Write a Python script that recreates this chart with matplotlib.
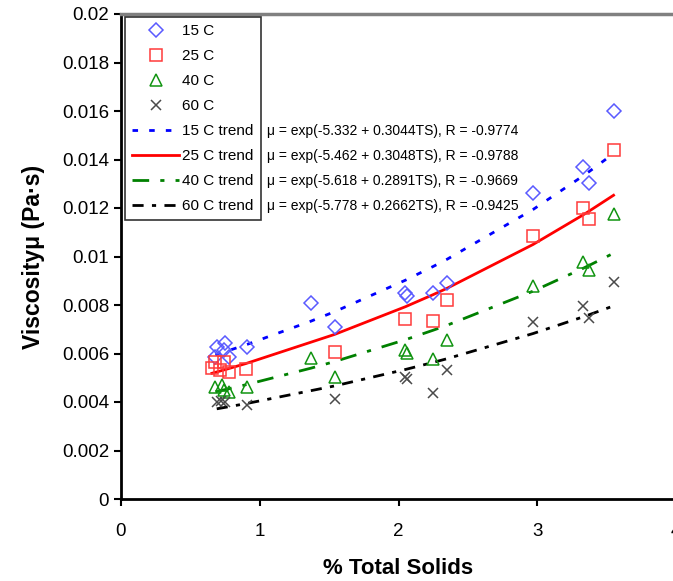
import numpy as np
import matplotlib
matplotlib.use("Agg")
import matplotlib.pyplot as plt
from matplotlib.lines import Line2D

plt.rcParams['font.family'] = ['Liberation Sans', 'DejaVu Sans']

# % total solids / viscosity (Pa s)
ts_15 = [0.69, 0.75, 0.74, 0.68, 0.775, 0.91, 1.37, 1.54, 2.05, 2.06, 2.25, 2.35, 2.97, 3.33, 3.37, 3.55]
mu_15 = [0.00628, 0.00642, 0.00614, 0.00587, 0.00584, 0.00628, 0.0081, 0.0071,
         0.00848, 0.00838, 0.00848, 0.00892, 0.01263, 0.0137, 0.01302, 0.01601]

ts_25 = [0.655, 0.68, 0.74, 0.715, 0.775, 0.90, 1.54, 2.05, 2.25, 2.35, 2.97, 3.33, 3.37, 3.55]
mu_25 = [0.00539, 0.00566, 0.00566, 0.00532, 0.00525, 0.00535, 0.00607, 0.00742,
         0.00735, 0.00821, 0.01085, 0.01199, 0.01153, 0.01439]

ts_40 = [0.68, 0.73, 0.74, 0.775, 0.91, 1.37, 1.54, 2.05, 2.06, 2.25, 2.35, 2.97, 3.33, 3.37, 3.55]
mu_40 = [0.0046, 0.0047, 0.0045, 0.00443, 0.0046, 0.00581, 0.00504, 0.00614, 0.00602,
         0.00577, 0.00656, 0.00878, 0.00979, 0.00944, 0.01174]

ts_60 = [0.69, 0.72, 0.75, 0.91, 1.54, 2.05, 2.06, 2.25, 2.35, 2.97, 3.33, 3.37, 3.55]
mu_60 = [0.00401, 0.00404, 0.00401, 0.00388, 0.00412, 0.00504, 0.00495, 0.00438,
         0.00532, 0.00731, 0.00796, 0.00745, 0.00896]

# fit coefficients printed on the chart: mu = exp(a + b*TS)
fit_a = [-5.332, -5.462, -5.618, -5.778]
fit_b = [0.3044, 0.3048, 0.2891, 0.2662]
fit_r = [-0.9774, -0.9788, -0.9669, -0.9425]

temps = ['15 C', '25 C', '40 C', '60 C']
y_ticks = [0, 0.002, 0.004, 0.006, 0.008, 0.01, 0.012, 0.014, 0.016, 0.018, 0.02]
y_tick_labels = ['0', '0.002', '0.004', '0.006', '0.008', '0.01', '0.012', '0.014', '0.016', '0.018', '0.02']
x_ticks = [0, 1, 2, 3, 4]

series = [(ts_15, mu_15), (ts_25, mu_25), (ts_40, mu_40), (ts_60, mu_60)]
markers = ['D', 's', '^', 'x']
msizes = [7, 8, 8.5, 7.5]
mcolors = ['#5a5aff', '#ff3a3a', '#119411', '#4a4a4a']
lcolors = ['#0000ff', '#ff0000', '#008000', '#000000']
lstyles = [(0, (2, 4)), '-', (0, (6, 4, 1.5, 4)), (0, (4, 3, 1.5, 3))]

fig = plt.figure(figsize=(6.73, 5.81), dpi=100)
W, H = 673, 581
ax = fig.add_axes([121 / W, 1 - 499 / H, (676 - 121) / W, (499 - 14) / H])

handles = []
for (ts, mu), mk, ms, mc, t in zip(series, markers, msizes, mcolors, temps):
    ax.plot(ts, mu, linestyle='none', marker=mk, markersize=ms, markerfacecolor='none',
            markeredgecolor=mc, markeredgewidth=1.1, zorder=3)
    handles.append(Line2D([], [], linestyle='none', marker=mk, markersize=ms,
                          markerfacecolor='none', markeredgecolor=mc, markeredgewidth=1.1, label=t))

for (ts, mu), a, b, lc, ls, t in zip(series, fit_a, fit_b, lcolors, lstyles, temps):
    xs = np.unique(ts)
    ax.plot(xs, np.exp(a + b * xs), color=lc, linestyle=ls, linewidth=2, zorder=2)
    handles.append(Line2D([], [], color=lc, linestyle=ls, linewidth=2, label=t + ' trend'))

ax.set_xlim(0, 4)
ax.set_ylim(0, 0.02)
ax.set_xticks(x_ticks)
ax.set_yticks(y_ticks)
ax.set_yticklabels(y_tick_labels)
ax.tick_params(labelsize=13.5, direction='out', length=5, width=1.5, colors='black')
ax.tick_params(axis='x', pad=12)
for s in ['left', 'bottom']:
    ax.spines[s].set_linewidth(2)
ax.spines['top'].set_color('#808080')
ax.spines['top'].set_linewidth(2.5)
ax.spines['right'].set_visible(False)

ax.set_xlabel('% Total Solids', fontsize=16, fontweight='bold', labelpad=13)
ax.set_ylabel('Viscosity\u03bc (Pa\u00b7s)', fontsize=16.5, fontweight='bold', labelpad=12)

leg = ax.legend(handles=handles, loc='upper left', bbox_to_anchor=(125 / W, 1 - 17 / H),
                bbox_transform=fig.transFigure, borderaxespad=0, fontsize=11,
                handlelength=3.1, handletextpad=0.2, labelspacing=0.72, borderpad=0.45,
                frameon=True, fancybox=False, shadow=False)
leg.get_frame().set_edgecolor('black')
leg.get_frame().set_linewidth(1.2)

fig.canvas.draw()
renderer = fig.canvas.get_renderer()
for txt, a, b, r in zip(leg.get_texts()[4:], fit_a, fit_b, fit_r):
    bb = txt.get_window_extent(renderer)
    yc = (bb.y0 + bb.y1) / 2
    fig.text(267 / W, yc / fig.bbox.height,
             f'\u03bc = exp({a:.3f} + {b:.4f}TS), R = {r:.4f}',
             fontsize=10, va='center', ha='left')

fig.savefig('out.png', dpi=100)
